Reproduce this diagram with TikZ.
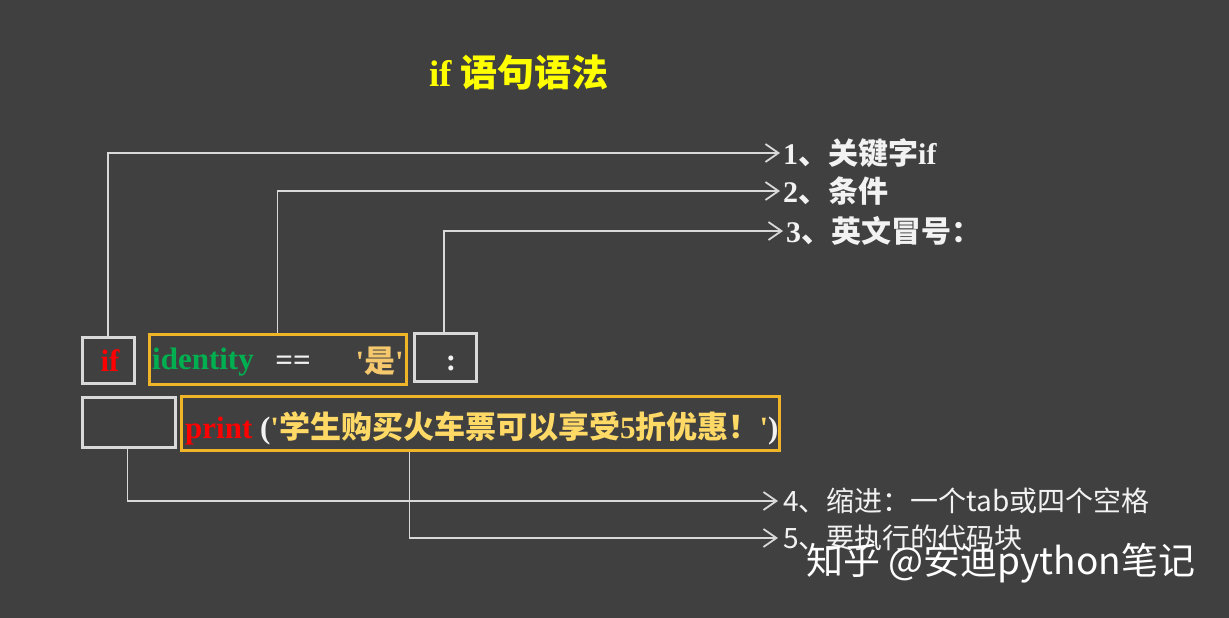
\documentclass[tikz,border=0pt]{standalone}
\usepackage{fontspec}
\setmainfont{Liberation Serif}
\newfontfamily\cjk{Noto Sans CJK SC}
\newcommand{\zhb}[1]{{\cjk\bfseries #1}}
\newcommand{\sq}{\textquotesingle}
\usetikzlibrary{arrows.meta}
\definecolor{bg}{RGB}{64,64,64}
\definecolor{wline}{RGB}{217,217,217}
\definecolor{obox}{RGB}{240,180,40}
\definecolor{idgreen}{RGB}{0,176,80}
\definecolor{gold}{RGB}{255,217,102}
\definecolor{shi}{RGB}{245,200,110}
\definecolor{ttl}{RGB}{255,255,0}
\definecolor{lbl}{RGB}{242,242,242}
\tikzset{
  wbox/.style={draw=wline, line width=3pt, inner sep=0pt},
  obx/.style={draw=obox, line width=3pt, inner sep=0pt},
  conn/.style={draw=wline, line width=1.8pt, -{Straight Barb[length=13pt,width=18pt,line width=1.8pt]}},
  lab/.style={anchor=west, inner xsep=3pt, inner ysep=0pt, text=lbl, font=\fontsize{30}{34}\selectfont\bfseries},
  labs/.style={anchor=west, inner xsep=5pt, inner ysep=0pt, text=lbl, font=\fontsize{28}{32}\selectfont\cjk},
  code/.style={inner sep=0pt, font=\fontsize{31}{34}\selectfont\bfseries},
}
\begin{document}
\begin{tikzpicture}[x=1pt,y=-1pt]
\useasboundingbox (0,0) rectangle (1229,618);
\fill[bg] (0,0) rectangle (1229,618);
% title
\node[text=ttl, font=\fontsize{37}{40}\selectfont\bfseries] (title) at (519,73) {if \zhb{语句语法}};
% boxes
\node[wbox, minimum width=52pt, minimum height=46pt] (ifbox) at (108,360) {};
\node[obx, minimum width=257pt, minimum height=50pt] (cond) at (277.5,359) {};
\node[wbox, minimum width=62pt, minimum height=48pt] (colon) at (445,357) {};
\node[wbox, minimum width=93pt, minimum height=50pt] (indent) at (128.5,422) {};
\node[obx, minimum width=598pt, minimum height=54pt] (print) at (480,423) {};
% code text
\node[code, text=red] (tif) at (110,361) {if};
\node[code, text=idgreen, anchor=west] (tid) at (152,362) {identity};
\node[code, text=lbl] (teq) at (293,363) {==};
\node[code, text=shi, anchor=east] (tshi) at (404,361) {\sq\zhb{是}\sq};
\node[code, text=lbl] (tcol) at (451,363) {:};
\node[code, anchor=west] (tpr) at (185,428) {\textcolor{red}{print} \textcolor{lbl}{(}\textcolor{gold}{\sq\zhb{学生购买火车票可以享受}5\zhb{折优惠！}\sq}\textcolor{lbl}{)}};
% labels
\node[lab] (l1) at (780,153) {1\zhb{、关键字}if};
\node[lab] (l2) at (780,191) {2\zhb{、条件}};
\node[lab] (l3) at (783,231) {3\zhb{、英文冒号：}};
\node[labs] (l4) at (778,501) {4、缩进：一个tab或四个空格};
\node[labs] (l5) at (778,538) {5、要执行的代码块};
% connectors
\draw[conn] (ifbox.north) |- (l1.west);
\draw[conn] (cond.north) |- (l2.west);
\draw[conn] ([xshift=-1pt]colon.north) |- (l3.west);
\draw[conn] ([xshift=-1pt]indent.south) |- (l4.west);
\draw[conn] ([xshift=230pt]print.south west) |- (l5.west);
% watermark
\node[text=white, font=\fontsize{37}{40}\selectfont\cjk, inner sep=0pt, anchor=west] (wm) at (806,563) {知乎 @安迪python笔记};
\end{tikzpicture}
\end{document}
